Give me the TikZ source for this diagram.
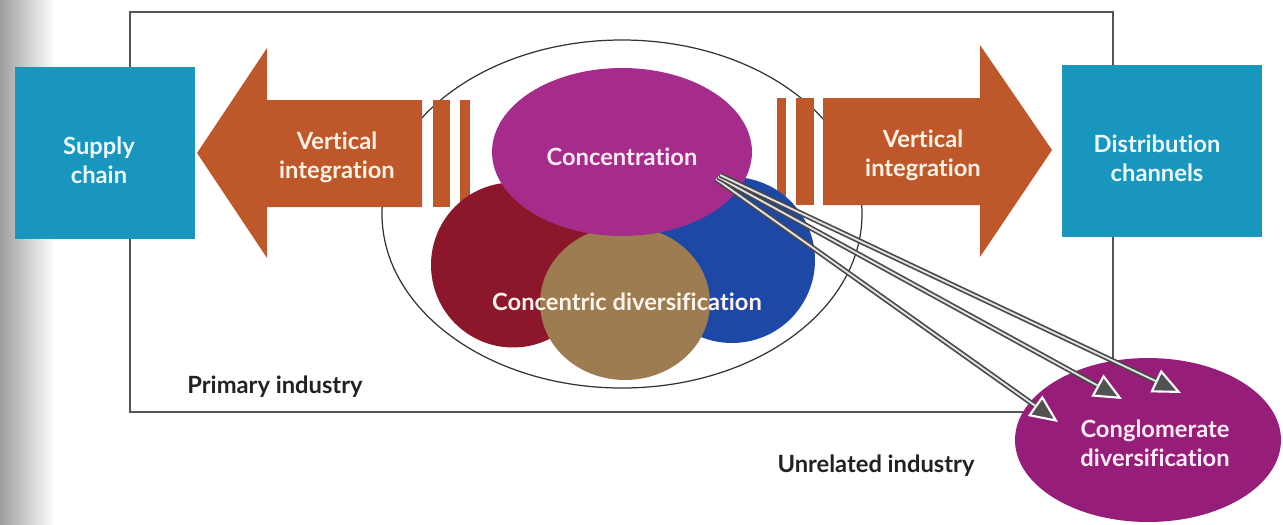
\documentclass[tikz,border=0pt]{standalone}
\usepackage{fontspec}
\setmainfont{Lato}[Ligatures={NoCommon,NoRare,NoDiscretionary}]
\usetikzlibrary{shapes.geometric,arrows.meta}
\definecolor{boxteal}{RGB}{24,150,190}
\definecolor{vibrown}{RGB}{190,88,42}
\definecolor{concmag}{RGB}{166,44,140}
\definecolor{winered}{RGB}{140,22,42}
\definecolor{royblue}{RGB}{30,72,166}
\definecolor{khaki}{RGB}{156,124,80}
\definecolor{congmag}{RGB}{150,30,120}
\definecolor{framegray}{RGB}{85,85,85}
\definecolor{darktext}{RGB}{34,34,34}
\tikzset{
  lbl/.style={font=\fontsize{13.5}{16.5}\selectfont\bfseries, align=center, inner sep=0pt},
  tealbox/.style={rectangle, fill=boxteal, inner sep=0pt},
  blob/.style={ellipse, inner sep=0pt},
  vibar/.style={fill=vibrown},
  frameline/.style={draw=framegray, line width=1.1pt},
  ringline/.style={draw=black!80, line width=0.7pt},
  conn/.style={draw=black!72, line width=3pt,
    -{Triangle[length=16pt,width=14pt,color=white,fill=black!68,line width=1.2pt]},
    postaction={draw=black!12, line width=1.1pt, -, shorten >=15pt}}
}
\begin{document}
\begin{tikzpicture}[x=0.02cm, y=-0.02cm]
\useasboundingbox (0,0) rectangle (1283,524);
\fill[white] (0,0) rectangle (1283,524);
\shade[left color=black!38, right color=white] (0,0) rectangle (55,524);

% primary industry frame and related-business ring
\draw[frameline] (130,12) rectangle (1113,412);
\draw[ringline] (622,214) ellipse [x radius=240, y radius=174];

% value-chain end boxes
\node[tealbox, minimum width=3.6cm, minimum height=3.44cm] (supply) at (105,153) {};
\node[lbl, text=cyan!8] (supplytxt) at (99,160) {Supply\\chain};
\node[tealbox, minimum width=4cm, minimum height=3.44cm] (distrib) at (1162,151) {};
\node[lbl, text=cyan!8] (distribtxt) at (1157,158) {Distribution\\channels};

% backward integration arrow
\fill[vibar] (197,153) -- (267,48) -- (267,100) -- (422,100) -- (422,207)
  -- (267,207) -- (267,258) -- cycle;
\fill[vibar] (433,100) rectangle (450,207);
\fill[vibar] (460,100) rectangle (470,207);
\node[lbl, text=orange!10] (vileft) at (337,157) {Vertical\\integration};

% forward integration arrow
\fill[vibar] (1052,150) -- (980,45) -- (980,98) -- (823,98) -- (823,205)
  -- (980,205) -- (980,257) -- cycle;
\fill[vibar] (777,98) rectangle (786,205);
\fill[vibar] (796,98) rectangle (814,205);
\node[lbl, text=orange!10] (viright) at (923,155) {Vertical\\integration};

% concentric diversification cluster
\node[blob, fill=winered, minimum width=3.28cm, minimum height=3.3cm] (red) at (513,265) {};
\node[blob, fill=royblue, minimum width=3.32cm, minimum height=3.32cm] (blue) at (732,260) {};
\node[blob, fill=khaki, minimum width=3.4cm, minimum height=3.08cm] (brown) at (625,303) {};
\node[blob, fill=concmag, minimum width=5.2cm, minimum height=3.36cm] (conc) at (622,152) {};
\node[lbl, text=magenta!8] (conctxt) at (622,157) {Concentration};
\node[lbl, text=white!92!orange] (concdiv) at (627,302) {Concentric diversification};

% unrelated business
\node[blob, fill=congmag, minimum width=5.32cm, minimum height=3.28cm] (cong) at (1148,440) {};
\node[lbl, text=magenta!8] (congtxt) at (1155,443) {Conglomerate\\diversification};

\node[lbl, text=darktext] (primary) at (275,387) {Primary industry};
\node[lbl, text=darktext] (unrel) at (876,466) {Unrelated industry};

% moves into unrelated industries
\coordinate (s1) at (716,179);
\coordinate (s2) at (718,177);
\coordinate (s3) at (720,175);
\coordinate (t1) at (1058,422);
\coordinate (t2) at (1122,399);
\coordinate (t3) at (1181,393);
\draw[conn] (s1) -- (t1);
\draw[conn] (s2) -- (t2);
\draw[conn] (s3) -- (t3);
\end{tikzpicture}
\end{document}
